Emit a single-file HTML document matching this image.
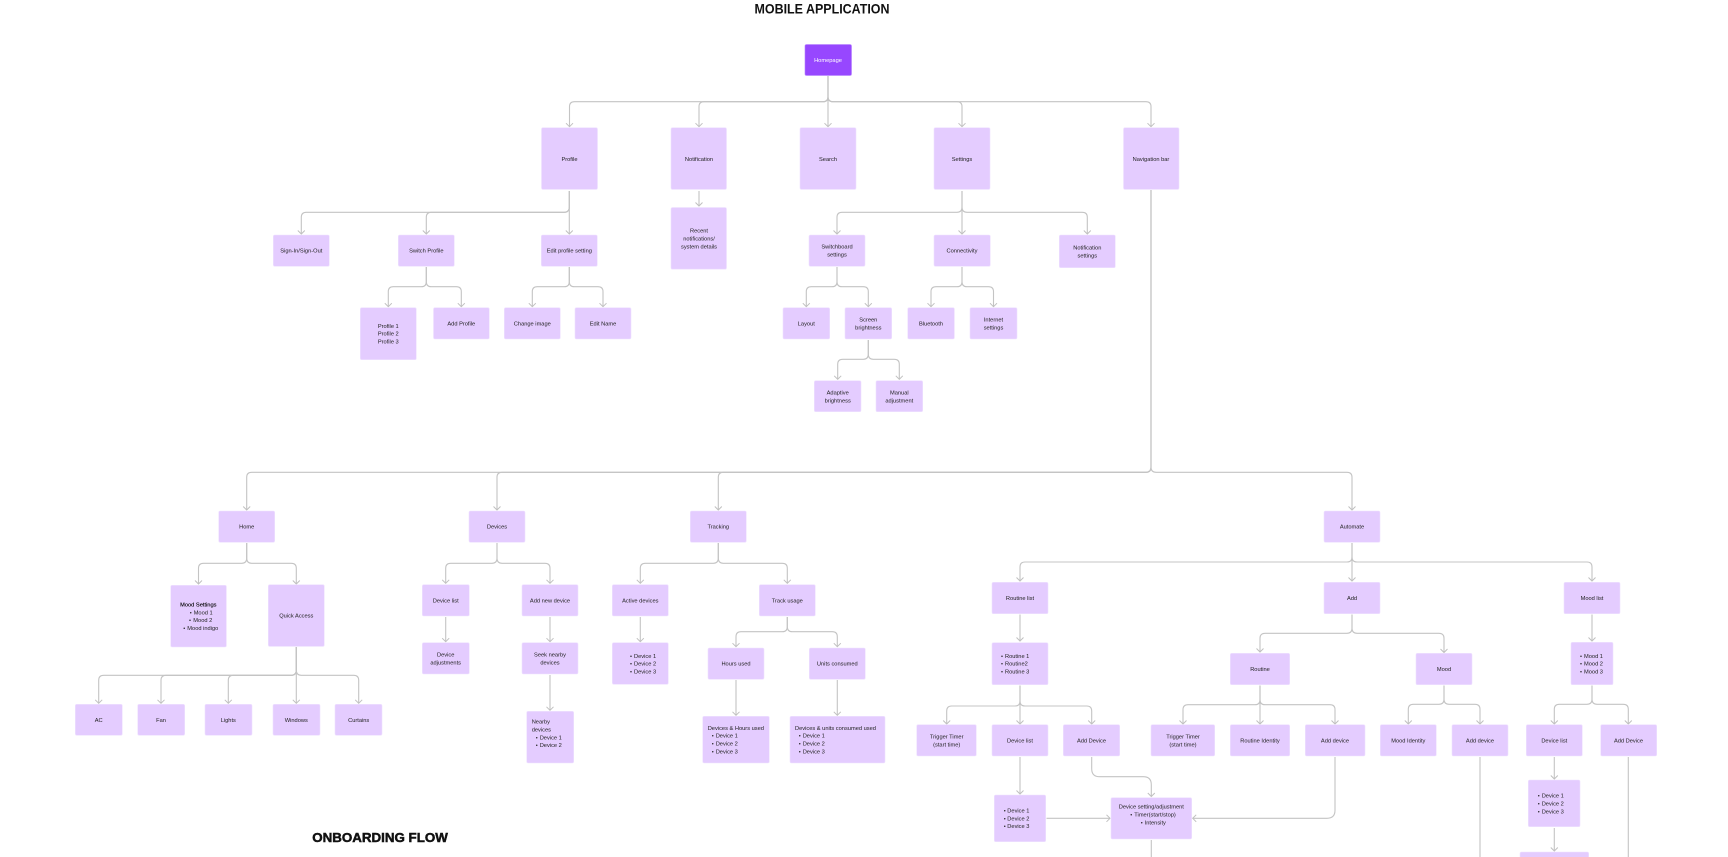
<!DOCTYPE html>
<html lang="en"><head><meta charset="utf-8"><title>Mobile Application</title>
<style>
html,body{margin:0;padding:0;background:#fff;width:1728px;height:857px;overflow:hidden}
svg{display:block;filter:blur(.3px)}
.b rect{fill:#e4ccff;stroke:#efe2ff;stroke-width:.6}
.c path{fill:none;stroke:#c4c4c4;stroke-width:1.1;marker-end:url(#a)}
.c path.n{marker-end:none}
text{font-family:"Liberation Sans",sans-serif;font-size:5.7px;fill:#222}
.m text,text.m{text-anchor:middle}
</style></head><body>
<svg xmlns="http://www.w3.org/2000/svg" width="1728" height="857" viewBox="0 0 1728 857">
<defs><marker id="a" markerUnits="userSpaceOnUse" markerWidth="10" markerHeight="10" refX="7" refY="5" orient="auto"><path d="M3.500 1.500 L7 5 L3.500 8.500" fill="none" stroke="#c0c0c0" stroke-width="1"/></marker></defs>

<g class="c">
<!-- homepage -->
<path d="M828 76V96.700Q828 101.700 823 101.700H574.500Q569.500 101.700 569.500 106.700V126.700"/>
<path d="M828 76V96.700Q828 101.700 823 101.700H704Q699 101.700 699 106.700V126.700"/>
<path d="M828 76V126.700"/>
<path d="M828 76V96.700Q828 101.700 833 101.700H957Q962 101.700 962 106.700V126.700"/>
<path d="M828 76V96.700Q828 101.700 833 101.700H1146Q1151 101.700 1151 106.700V126.700"/>
<!-- profile -->
<path d="M569.300 191V207.300Q569.300 212.300 564.300 212.300H306.300Q301.300 212.300 301.300 217.300V234"/>
<path d="M569.300 191V207.300Q569.300 212.300 564.300 212.300H431.300Q426.300 212.300 426.300 217.300V234"/>
<path d="M569.300 191V234"/>
<path d="M699 191V206"/>
<!-- settings -->
<path d="M962 191V207.300Q962 212.300 957 212.300H842Q837 212.300 837 217.300V234"/>
<path d="M962 191V234"/>
<path d="M962 191V207.300Q962 212.300 967 212.300H1082.300Q1087.300 212.300 1087.300 217.300V234"/>
<!-- switch / edit -->
<path d="M426.300 267V281.700Q426.300 286.700 421.300 286.700H393.300Q388.300 286.700 388.300 291.700V306.700"/>
<path d="M426.300 267V281.700Q426.300 286.700 431.300 286.700H456.300Q461.300 286.700 461.300 291.700V306.700"/>
<path d="M569.300 267V281.700Q569.300 286.700 564.300 286.700H537.300Q532.300 286.700 532.300 291.700V306.700"/>
<path d="M569.300 267V281.700Q569.300 286.700 574.300 286.700H598Q603 286.700 603 291.700V306.700"/>
<!-- switchboard / connectivity -->
<path d="M837 267V281.700Q837 286.700 832 286.700H811.300Q806.300 286.700 806.300 291.700V306.700"/>
<path d="M837 267V281.700Q837 286.700 842 286.700H863.300Q868.300 286.700 868.300 291.700V306.700"/>
<path d="M962 267V281.700Q962 286.700 957 286.700H936Q931 286.700 931 291.700V306.700"/>
<path d="M962 267V281.700Q962 286.700 967 286.700H988.500Q993.500 286.700 993.500 291.700V306.700"/>
<!-- screen -->
<path d="M868.300 340V354.300Q868.300 359.300 863.300 359.300H842.700Q837.700 359.300 837.700 364.300V379.300"/>
<path d="M868.300 340V354.300Q868.300 359.300 873.300 359.300H894.300Q899.300 359.300 899.300 364.300V379.300"/>
<!-- nav -->
<path d="M1151 190V467.300Q1151 472.300 1146 472.300H251.700Q246.700 472.300 246.700 477.300V510"/>
<path d="M1151 190V467.300Q1151 472.300 1146 472.300H502Q497 472.300 497 477.300V510"/>
<path d="M1151 190V467.300Q1151 472.300 1146 472.300H723.300Q718.300 472.300 718.300 477.300V510"/>
<path d="M1151 190V467.300Q1151 472.300 1156 472.300H1347Q1352 472.300 1352 477.300V510"/>
<!-- home -->
<path d="M246.700 543V558.300Q246.700 563.300 241.700 563.300H203.500Q198.500 563.300 198.500 568.300V584"/>
<path d="M246.700 543V558.300Q246.700 563.300 251.700 563.300H291.300Q296.300 563.300 296.300 568.300V584"/>
<!-- quick -->
<path d="M296.300 647V670.300Q296.300 675.300 291.300 675.300H103.700Q98.700 675.300 98.700 680.300V703.300"/>
<path d="M296.300 647V670.300Q296.300 675.300 291.300 675.300H166Q161 675.300 161 680.300V703.300"/>
<path d="M296.300 647V670.300Q296.300 675.300 291.300 675.300H233.300Q228.300 675.300 228.300 680.300V703.300"/>
<path d="M296.300 647V703.300"/>
<path d="M296.300 647V670.300Q296.300 675.300 301.300 675.300H353.700Q358.700 675.300 358.700 680.300V703.300"/>
<!-- devices -->
<path d="M497 543V558.300Q497 563.300 492 563.300H450.700Q445.700 563.300 445.700 568.300V583.300"/>
<path d="M497 543V558.300Q497 563.300 502 563.300H545Q550 563.300 550 568.300V583.300"/>
<path d="M445.700 617V641.700"/>
<path d="M550 617V641.700"/>
<path d="M550 675V710.300"/>
<!-- tracking -->
<path d="M718.300 543V558.300Q718.300 563.300 713.300 563.300H645.300Q640.300 563.300 640.300 568.300V583.300"/>
<path d="M718.300 543V558.300Q718.300 563.300 723.300 563.300H782.300Q787.300 563.300 787.300 568.300V583.300"/>
<path d="M640.300 617V641.700"/>
<path d="M787.300 617V626.700Q787.300 631.700 782.300 631.700H741Q736 631.700 736 636.700V646.700"/>
<path d="M787.300 617V626.700Q787.300 631.700 792.300 631.700H832.300Q837.300 631.700 837.300 636.700V646.700"/>
<path d="M736 680V715.300"/>
<path d="M837.300 680V715.300"/>
<!-- automate -->
<path d="M1352 543V557Q1352 562 1347 562H1025Q1020 562 1020 567V581"/>
<path d="M1352 543V581"/>
<path d="M1352 543V557Q1352 562 1357 562H1587Q1592 562 1592 567V581"/>
<path d="M1020 614.500V641"/>
<path d="M1020 685.500V701Q1020 706 1015 706H951.700Q946.700 706 946.700 711V724"/>
<path d="M1020 685.500V724"/>
<path d="M1020 685.500V701Q1020 706 1025 706H1086.700Q1091.700 706 1091.700 711V724"/>
<path d="M1020 757V794"/>
<path d="M1091.700 757V768.700Q1091.700 776.700 1099.700 776.700H1143.300Q1151.300 776.700 1151.300 784.700V796.500"/>
<path d="M1046.500 818.300H1110"/>
<path d="M1335 757V810.300Q1335 818.300 1327 818.300H1192.700"/>
<path class="n" d="M1151.300 840V857"/>
<!-- add -->
<path d="M1352 614.500V628.300Q1352 633.300 1347 633.300H1265Q1260 633.300 1260 638.300V652"/>
<path d="M1352 614.500V628.300Q1352 633.300 1357 633.300H1439Q1444 633.300 1444 638.300V652.500"/>
<path d="M1260 685.500V699.700Q1260 704.700 1255 704.700H1188Q1183 704.700 1183 709.700V724"/>
<path d="M1260 685.500V724"/>
<path d="M1260 685.500V699.700Q1260 704.700 1265 704.700H1330Q1335 704.700 1335 709.700V724"/>
<path d="M1444 685.500V699.300Q1444 704.300 1439 704.300H1413.300Q1408.300 704.300 1408.300 709.300V724"/>
<path d="M1444 685.500V699.300Q1444 704.300 1449 704.300H1475Q1480 704.300 1480 709.300V724"/>
<path class="n" d="M1480 757V857"/>
<!-- mood list -->
<path d="M1592 614.500V641"/>
<path d="M1592 685.500V699.300Q1592 704.300 1587 704.300H1559.300Q1554.300 704.300 1554.300 709.300V724"/>
<path d="M1592 685.500V699.300Q1592 704.300 1597 704.300H1623.300Q1628.300 704.300 1628.300 709.300V724"/>
<path d="M1554.300 757V779"/>
<path d="M1554.300 828V851"/>
<path class="n" d="M1628.300 757V857"/>
</g>

<g class="b">
<rect x="805" y="44.500" width="46.500" height="31" rx="1.500" style="fill:#9747ff;stroke:#b582ff"/>
<rect x="541.500" y="127.700" width="56" height="61.700" rx="1.500"/>
<rect x="671" y="127.700" width="55.500" height="61.700" rx="1.500"/>
<rect x="800" y="127.700" width="56" height="61.700" rx="1.500"/>
<rect x="934" y="127.700" width="56" height="61.700" rx="1.500"/>
<rect x="1123.500" y="127.700" width="55.500" height="61.700" rx="1.500"/>
<rect x="671" y="207.500" width="55.500" height="61.700" rx="1.500"/>
<rect x="273.300" y="235" width="56" height="31.300" rx="1.500"/>
<rect x="398.300" y="235" width="56" height="31.300" rx="1.500"/>
<rect x="541.300" y="235" width="56" height="31.300" rx="1.500"/>
<rect x="809" y="235" width="56" height="31.300" rx="1.500"/>
<rect x="934" y="235" width="56.300" height="31.300" rx="1.500"/>
<rect x="1059.300" y="235" width="56" height="32.700" rx="1.500"/>
<rect x="360.300" y="307.700" width="56" height="52" rx="1.500"/>
<rect x="433.500" y="307.700" width="55.800" height="31.300" rx="1.500"/>
<rect x="504.300" y="307.700" width="56" height="31.300" rx="1.500"/>
<rect x="575" y="307.700" width="56" height="31.300" rx="1.500"/>
<rect x="783" y="307.700" width="46.700" height="31.300" rx="1.500"/>
<rect x="845" y="307.700" width="46.700" height="31.300" rx="1.500"/>
<rect x="907.700" y="307.700" width="46.700" height="31.300" rx="1.500"/>
<rect x="970" y="307.700" width="47" height="31.300" rx="1.500"/>
<rect x="814.300" y="380.700" width="46.700" height="31" rx="1.500"/>
<rect x="876" y="380.700" width="46.700" height="31" rx="1.500"/>
<rect x="218.700" y="511" width="56" height="31.300" rx="1.500"/>
<rect x="469" y="511" width="56" height="31.300" rx="1.500"/>
<rect x="690.300" y="511" width="56" height="31.300" rx="1.500"/>
<rect x="1324" y="511" width="56" height="31.300" rx="1.500"/>
<rect x="170.700" y="585.300" width="55.700" height="61.700" rx="1.500"/>
<rect x="268.300" y="584.700" width="56" height="61.700" rx="1.500"/>
<rect x="75.300" y="704.300" width="47" height="31" rx="1.500"/>
<rect x="137.700" y="704.300" width="47" height="31" rx="1.500"/>
<rect x="205" y="704.300" width="47" height="31" rx="1.500"/>
<rect x="273" y="704.300" width="47" height="31" rx="1.500"/>
<rect x="335" y="704.300" width="47" height="31" rx="1.500"/>
<rect x="422.300" y="584.700" width="47" height="31.300" rx="1.500"/>
<rect x="522" y="584.700" width="56" height="31.300" rx="1.500"/>
<rect x="422.300" y="642.700" width="47" height="31.300" rx="1.500"/>
<rect x="522" y="642.700" width="56" height="31.300" rx="1.500"/>
<rect x="526.700" y="711.300" width="47" height="51.700" rx="1.500"/>
<rect x="612.300" y="584.700" width="56" height="31.300" rx="1.500"/>
<rect x="612.300" y="642.700" width="56" height="41.600" rx="1.500"/>
<rect x="759.300" y="584.700" width="56" height="31.300" rx="1.500"/>
<rect x="708" y="648" width="56" height="31.300" rx="1.500"/>
<rect x="809.300" y="648" width="56" height="31.300" rx="1.500"/>
<rect x="702.700" y="716.300" width="66.600" height="46.700" rx="1.500"/>
<rect x="790" y="716.300" width="95" height="46.700" rx="1.500"/>
<rect x="992" y="582.300" width="56" height="31.400" rx="1.500"/>
<rect x="992" y="642.700" width="56" height="42" rx="1.500"/>
<rect x="916.700" y="724.700" width="59.600" height="31.300" rx="1.500"/>
<rect x="992" y="724.700" width="56" height="31.300" rx="1.500"/>
<rect x="1063.300" y="724.700" width="56.400" height="31.300" rx="1.500"/>
<rect x="994.300" y="795" width="51.400" height="46.700" rx="1.500"/>
<rect x="1111" y="797.700" width="80.700" height="41.300" rx="1.500"/>
<rect x="1324" y="582.300" width="56" height="31.400" rx="1.500"/>
<rect x="1564" y="582.300" width="56" height="31.400" rx="1.500"/>
<rect x="1230.300" y="653.300" width="59.400" height="31.400" rx="1.500"/>
<rect x="1416" y="653.300" width="56" height="31.400" rx="1.500"/>
<rect x="1571" y="642.300" width="42" height="42.400" rx="1.500"/>
<rect x="1151" y="724.700" width="63.700" height="31.300" rx="1.500"/>
<rect x="1230.300" y="724.700" width="59.400" height="31.300" rx="1.500"/>
<rect x="1305.300" y="724.700" width="59.700" height="31.300" rx="1.500"/>
<rect x="1380.300" y="724.700" width="56" height="31.300" rx="1.500"/>
<rect x="1452" y="724.700" width="56" height="31.300" rx="1.500"/>
<rect x="1526.300" y="724.700" width="56" height="31.300" rx="1.500"/>
<rect x="1600.700" y="724.700" width="56" height="31.300" rx="1.500"/>
<rect x="1528.300" y="780" width="51.700" height="46.700" rx="1.500"/>
<rect x="1520" y="852" width="68.700" height="20" rx="1.500"/>
</g>

<text x="754.500" y="13.500" textLength="135" lengthAdjust="spacingAndGlyphs" style="font-size:14px;font-weight:bold;fill:#111">MOBILE APPLICATION</text>
<text x="312.300" y="842" textLength="135.500" lengthAdjust="spacingAndGlyphs" style="font-size:13px;font-weight:bold;fill:#111;stroke:#111;stroke-width:.5">ONBOARDING FLOW</text>

<g class="m">
<text x="828" y="62" style="fill:#fff">Homepage</text>
<text x="569.500" y="161">Profile</text>
<text x="699" y="161">Notification</text>
<text x="828" y="161">Search</text>
<text x="962" y="161">Settings</text>
<text x="1151" y="161">Navigation bar</text>
<text x="699" y="232.700">Recent</text><text x="699" y="240.300">notifications/</text><text x="699" y="248.300">system details</text>
<text x="301.300" y="252.700">Sign-In/Sign-Out</text>
<text x="426.300" y="252.700">Switch Profile</text>
<text x="569.300" y="252.700">Edit profile setting</text>
<text x="837" y="248.700">Switchboard</text><text x="837" y="256.700">settings</text>
<text x="962" y="252.700">Connectivity</text>
<text x="1087.300" y="249.300">Notification</text><text x="1087.300" y="257.300">settings</text>
<text x="388.300" y="328">Profile 1</text><text x="388.300" y="335.700">Profile 2</text><text x="388.300" y="343.700">Profile 3</text>
<text x="461.300" y="325.300">Add Profile</text>
<text x="532.300" y="325.300">Change image</text>
<text x="603" y="325.300">Edit Name</text>
<text x="806.300" y="325.300">Layout</text>
<text x="868.300" y="321.300">Screen</text><text x="868.300" y="329.300">brightness</text>
<text x="931" y="325.300">Bluetooth</text>
<text x="993.500" y="321.300">Internet</text><text x="993.500" y="329.300">settings</text>
<text x="837.700" y="394.300">Adaptive</text><text x="837.700" y="402.300">brightness</text>
<text x="899.300" y="394.300">Manual</text><text x="899.300" y="402.300">adjustment</text>
<text x="246.700" y="528.700">Home</text>
<text x="497" y="528.700">Devices</text>
<text x="718.300" y="528.700">Tracking</text>
<text x="1352" y="528.700">Automate</text>
<text x="198.300" y="606.300" style="fill:#000;stroke:#000;stroke-width:.12">Mood Settings</text>
<text x="296.300" y="617.700">Quick Access</text>
<text x="98.700" y="721.800">AC</text>
<text x="161" y="721.800">Fan</text>
<text x="228.300" y="721.800">Lights</text>
<text x="296.300" y="721.800">Windows</text>
<text x="358.700" y="721.800">Curtains</text>
<text x="445.700" y="602.300">Device list</text>
<text x="550" y="602.300">Add new device</text>
<text x="445.700" y="656.700">Device</text><text x="445.700" y="664.300">adjustments</text>
<text x="550" y="656.700">Seek nearby</text><text x="550" y="664.300">devices</text>
<text x="640.300" y="602.300">Active devices</text>
<text x="787.300" y="602.300">Track usage</text>
<text x="736" y="665.700">Hours used</text>
<text x="837.300" y="665.700">Units consumed</text>
<text x="1020" y="600">Routine list</text>
<text x="1352" y="600">Add</text>
<text x="1592" y="600">Mood list</text>
<text x="1260" y="671">Routine</text>
<text x="1444" y="671">Mood</text>
<text x="946.700" y="738.300">Trigger Timer</text><text x="946.700" y="746.300">(start time)</text>
<text x="1020" y="742.300">Device list</text>
<text x="1091.500" y="742.300">Add Device</text>
<text x="1183" y="738.300">Trigger Timer</text><text x="1183" y="746.300">(start time)</text>
<text x="1260" y="742.300">Routine Identity</text>
<text x="1335" y="742.300">Add device</text>
<text x="1408.300" y="742.300">Mood Identity</text>
<text x="1480" y="742.300">Add device</text>
<text x="1554.300" y="742.300">Device list</text>
<text x="1628.500" y="742.300">Add Device</text>
<text x="1151.300" y="808.700">Device setting/adjustment</text>
</g>

<g>
<text x="189.700" y="614.300">•</text><text x="193.700" y="614.300">Mood 1</text>
<text x="189" y="622">•</text><text x="193.300" y="622">Mood 2</text>
<text x="183.300" y="630">•</text><text x="187.300" y="630">Mood indigo</text>
<text x="531.700" y="723.700">Nearby</text><text x="531.700" y="731.700">devices</text>
<text x="535.700" y="739.300">•</text><text x="539.700" y="739.300">Device 1</text>
<text x="535.700" y="747">•</text><text x="539.700" y="747">Device 2</text>
<text x="630" y="658">•</text><text x="634" y="658">Device 1</text>
<text x="630" y="665.700">•</text><text x="634" y="665.700">Device 2</text>
<text x="630" y="673.300">•</text><text x="634" y="673.300">Device 3</text>
<text x="707.700" y="730">Devices &amp; Hours used</text>
<text x="711.700" y="737.700">•</text><text x="715.700" y="737.700">Device 1</text>
<text x="711.700" y="745.700">•</text><text x="715.700" y="745.700">Device 2</text>
<text x="711.700" y="753.300">•</text><text x="715.700" y="753.300">Device 3</text>
<text x="795" y="730">Devices &amp; units consumed used</text>
<text x="798.700" y="737.700">•</text><text x="802.700" y="737.700">Device 1</text>
<text x="798.700" y="745.700">•</text><text x="802.700" y="745.700">Device 2</text>
<text x="798.700" y="753.300">•</text><text x="802.700" y="753.300">Device 3</text>
<text x="1001" y="658">•</text><text x="1005" y="658">Routine 1</text>
<text x="1001" y="665.700">•</text><text x="1005" y="665.700">Routine2</text>
<text x="1001" y="673.300">•</text><text x="1005" y="673.300">Routine 3</text>
<text x="1003.700" y="812.700">•</text><text x="1007.300" y="812.700">Device 1</text>
<text x="1003.700" y="820.300">•</text><text x="1007.300" y="820.300">Device 2</text>
<text x="1003.700" y="828">•</text><text x="1007.300" y="828">Device 3</text>
<text x="1130.300" y="816.300">•</text><text x="1134.300" y="816.300">Timer(start/stop)</text>
<text x="1140.700" y="824.300">•</text><text x="1144.700" y="824.300">Intensity</text>
<text x="1580" y="658">•</text><text x="1584" y="658">Mood 1</text>
<text x="1580" y="665.700">•</text><text x="1584" y="665.700">Mood 2</text>
<text x="1580" y="673.300">•</text><text x="1584" y="673.300">Mood 3</text>
<text x="1537.700" y="797.700">•</text><text x="1541.700" y="797.700">Device 1</text>
<text x="1537.700" y="805.300">•</text><text x="1541.700" y="805.300">Device 2</text>
<text x="1537.700" y="813.300">•</text><text x="1541.700" y="813.300">Device 3</text>
</g>
</svg>
</body></html>
